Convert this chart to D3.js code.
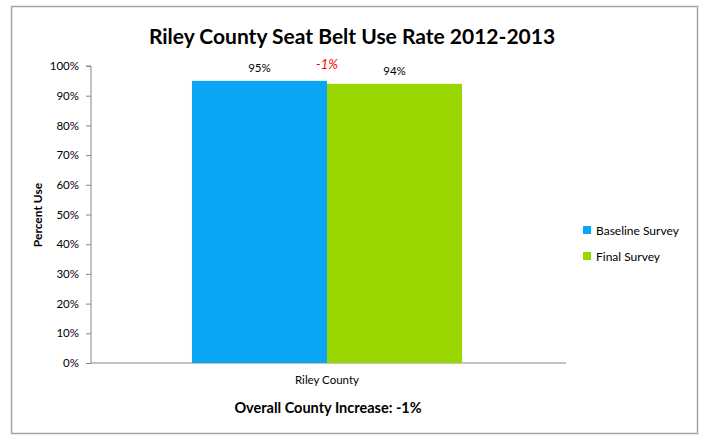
<!DOCTYPE html>
<html><head><meta charset="utf-8">
<script src="https://cdn.jsdelivr.net/npm/d3@7"></script>
<style>body{margin:0;background:#fff}svg text{font-family:Lato,"Open Sans",sans-serif}</style>
</head><body>
<svg id="c" width="704" height="435"></svg>
<script>
const categories = ["Riley County"];
const seriesNames = ["Baseline Survey", "Final Survey"];
const baselineValues = [0.95];
const finalValues = [0.94];
const changeLabels = ["-1%"];
const yTicks = [0,0.1,0.2,0.3,0.4,0.5,0.6,0.7,0.8,0.9,1.0];
const colors = ["#0ba5f5", "#99d600"];
const title = "Riley County Seat Belt Use Rate 2012-2013";
const yTitle = "Percent Use";
const footnote = "Overall County Increase: -1%";

const svg = d3.select("#c");
svg.append("rect").attr("x",11.5).attr("y",6.5).attr("width",686).attr("height",427)
  .attr("fill","#fff").attr("stroke","#a6a6a6").attr("stroke-width",1.5);

const m = {l:91, r:566, t:66, b:363};
const x0 = d3.scaleBand().domain(categories).range([m.l-3,m.r]).paddingInner(0).paddingOuter(0.385);
const x1 = d3.scaleBand().domain(seriesNames).range([0,x0.bandwidth()]);
const y = d3.scaleLinear().domain([0,1]).range([m.b,m.t]);

svg.append("text").attr("x",352).attr("y",44).attr("text-anchor","middle")
  .attr("font-size",21).attr("font-weight","bold").attr("fill","#000").text(title);

const yAxis = d3.axisLeft(y).tickValues(yTicks).tickFormat(d3.format(".0%")).tickSize(5).tickPadding(7);
const ga = svg.append("g").attr("transform",`translate(${m.l},0)`).call(yAxis);
ga.selectAll("path,line").attr("stroke","#868686");
ga.select(".domain").attr("d",`M-5,${m.t}H0V${m.b}`);
ga.selectAll("text").attr("font-size",11.5).attr("fill","#000").attr("font-family","Lato,sans-serif");

const xAxis = d3.axisBottom(x0).tickSize(0).tickPadding(13);
const gx = svg.append("g").attr("transform",`translate(0,${m.b})`).call(xAxis);
gx.select(".domain").attr("stroke","#868686").attr("d",`M${m.l},0H${m.r}`);
gx.selectAll("text").attr("font-size",11.5).attr("fill","#000").attr("font-family","Lato,sans-serif");

const rows = categories.map((c,i)=>({cat:c, vals:[baselineValues[i], finalValues[i]], change:changeLabels[i]}));
const g = svg.selectAll("g.cat").data(rows).join("g").attr("class","cat")
  .attr("transform",d=>`translate(${x0(d.cat)},0)`);
g.selectAll("rect").data(d=>d.vals.map((v,j)=>({name:seriesNames[j],v,j}))).join("rect")
  .attr("x",d=>x1(d.name)).attr("width",x1.bandwidth())
  .attr("y",d=>y(d.v)).attr("height",d=>y(0)-y(d.v)).attr("fill",d=>colors[d.j]);
g.selectAll("text.val").data(d=>d.vals.map((v,j)=>({name:seriesNames[j],v,j}))).join("text")
  .attr("class","val").attr("x",d=>x1(d.name)+x1.bandwidth()/2).attr("y",d=>y(d.v)-9)
  .attr("text-anchor","middle").attr("font-size",11.5).attr("fill","#000")
  .text(d=>d3.format(".0%")(d.v));
g.append("text").attr("x",x0.bandwidth()/2).attr("y",d=>y(d3.max(d.vals))-12)
  .attr("text-anchor","middle").attr("font-size",13).attr("font-style","italic")
  .attr("fill","#ff0000").text(d=>d.change);

svg.append("text").attr("transform","translate(42,215) rotate(-90)").attr("text-anchor","middle")
  .attr("font-size",12).attr("font-weight","bold").text(yTitle);

svg.append("text").attr("x",328).attr("y",413).attr("text-anchor","middle")
  .attr("font-size",14.5).attr("font-weight","bold").text(footnote);

const lg = svg.selectAll("g.lg").data(seriesNames).join("g").attr("class","lg")
  .attr("transform",(d,i)=>`translate(583,${226+i*26})`);
lg.append("rect").attr("width",8).attr("height",8).attr("fill",(d,i)=>colors[i]);
lg.append("text").attr("x",13).attr("y",8.5).attr("font-size",12).text(d=>d);
</script>
</body></html>
